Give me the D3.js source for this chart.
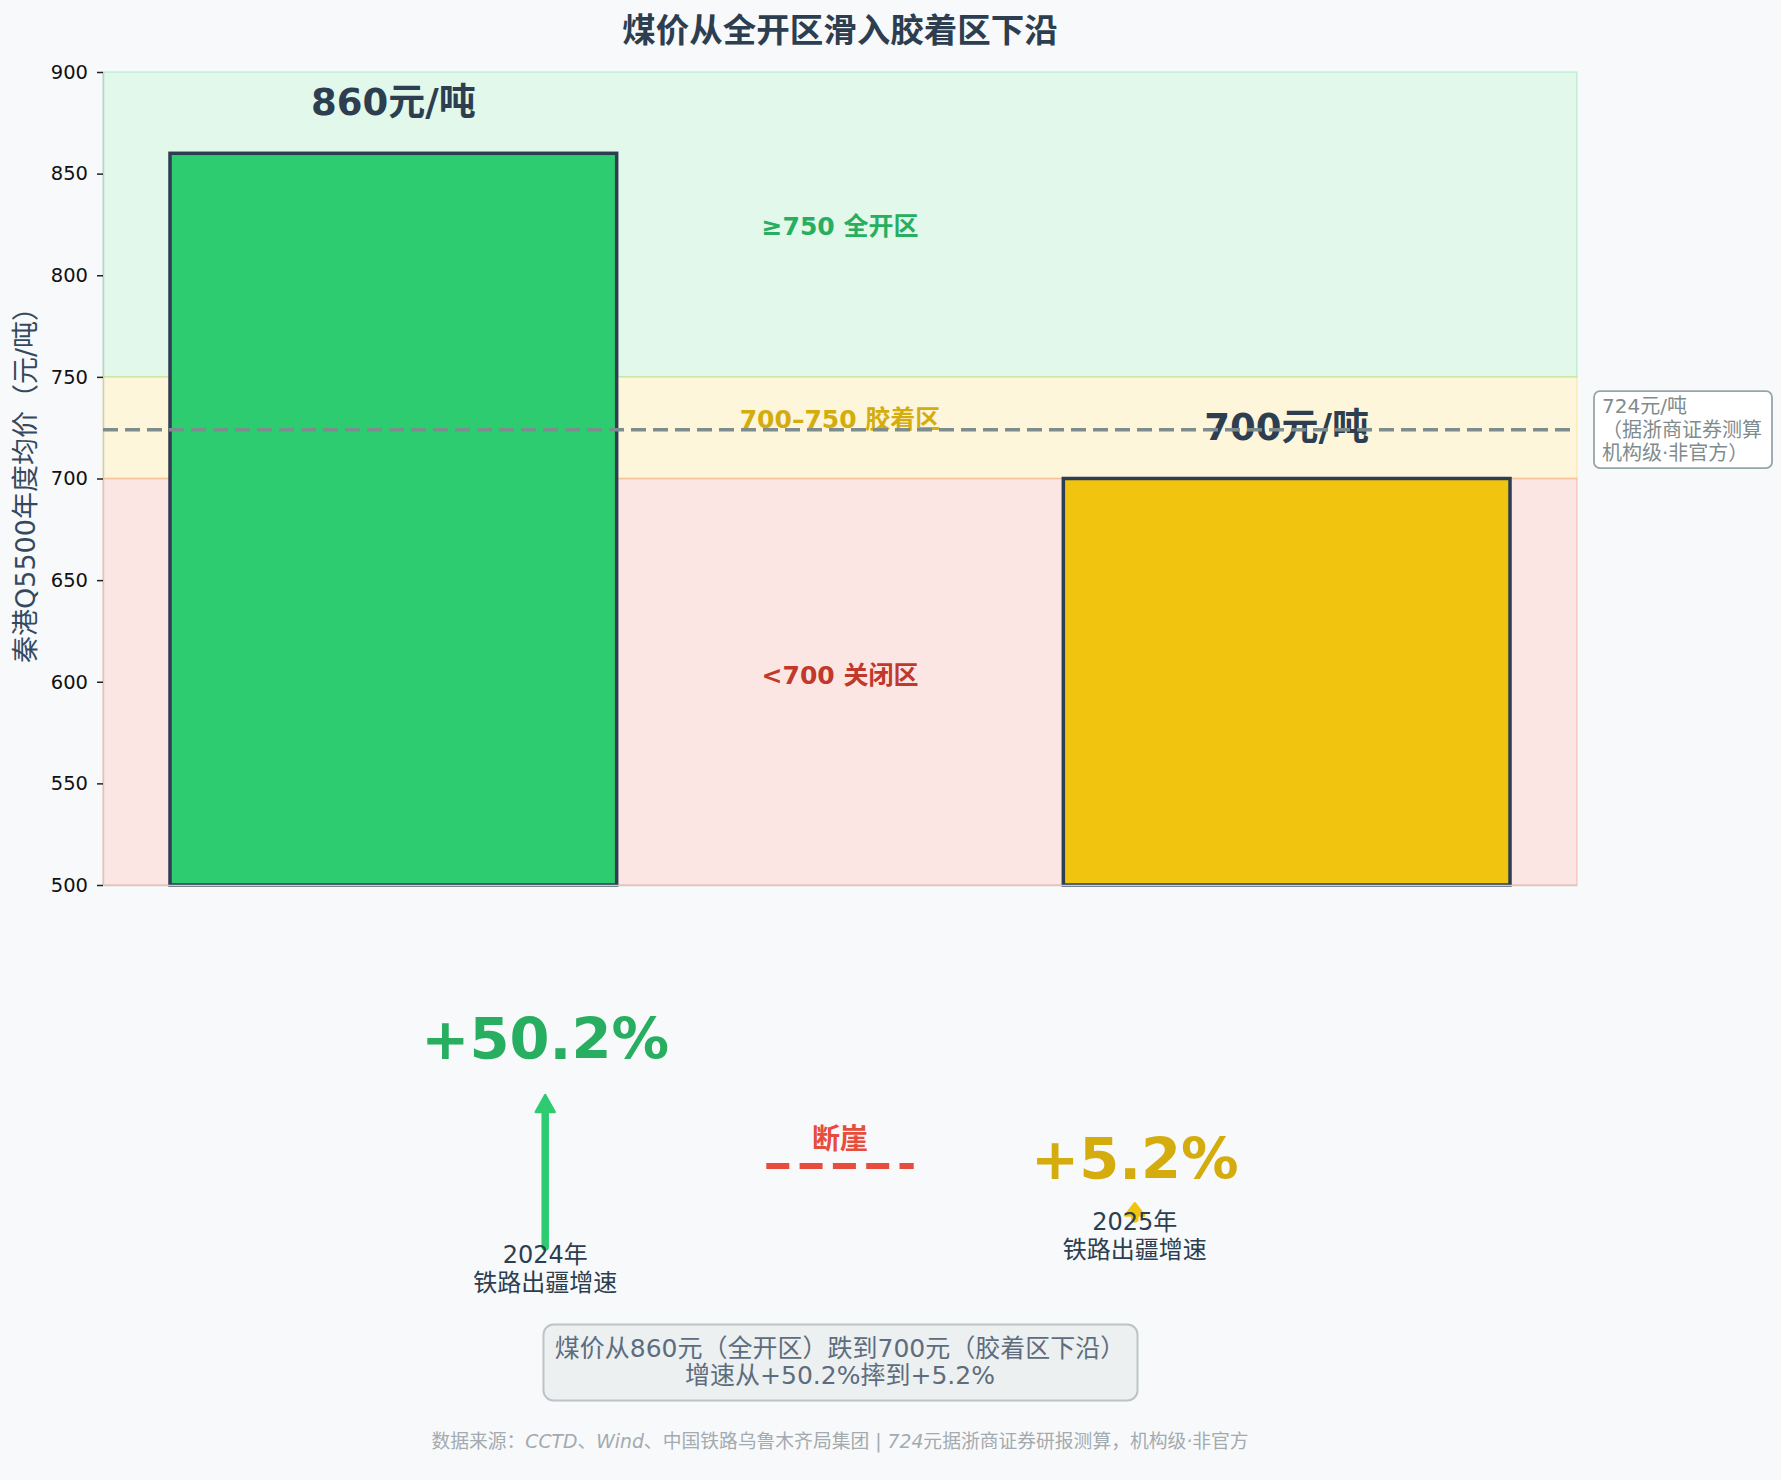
<!DOCTYPE html>
<html>
<head>
<meta charset="utf-8">
<script src="https://cdn.jsdelivr.net/npm/d3@7"></script>
<style>
  html, body { margin: 0; padding: 0; background: #f8f9fa; }
  svg { display: block; }
  text { font-family: "DejaVu Sans", "Noto Sans CJK SC", sans-serif; }
</style>
</head>
<body>
<svg id="chart" width="1781" height="1480"></svg>
<script>
// ---------- data ----------
const categories = ["2024年", "2025年"];
const prices = [860, 700];
const priceLabels = ["860元/吨", "700元/吨"];
const growth = [50.2, 5.2];
const growthLabels = ["+50.2%", "+5.2%"];
const yTicks = [500, 550, 600, 650, 700, 750, 800, 850, 900];
const zoneLow = [750, 700, 500];
const zoneHigh = [900, 750, 700];
const zoneNames = ["≥750 全开区", "700–750 胶着区", "<700 关闭区"];
const refPrice = 724;
const refNote = ["724元/吨", "（据浙商证券测算", "机构级·非官方）"];
const titleText = "煤价从全开区滑入胶着区下沿";
const yLabel = "秦港Q5500年度均价（元/吨）";
const summary = ["煤价从860元（全开区）跌到700元（胶着区下沿）", "增速从+50.2%摔到+5.2%"];
const subLabel = "铁路出疆增速";
const cliffLabel = "断崖";

// ---------- style ----------
const barColors = ["#2ecc71", "#f1c40f"];
const zoneColors = ["#2ecc71", "#f1c40f", "#e74c3c"];
const zoneTextColors = ["#27ae60", "#d4ac0d", "#c0392b"];
const growthColors = ["#27ae60", "#d4ac0d"];
const arrowColors = ["#2ecc71", "#f1c40f"];
const dark = "#2c3e50";

const svg = d3.select("#chart");
const W = 1781, H = 1480;
svg.append("rect").attr("width", W).attr("height", H).attr("fill", "#f8f9fa");

const M = { left: 103, right: 1577, top: 72, bottom: 885 };
const x = d3.scaleLinear().domain([-0.325, 1.325]).range([M.left, M.right]);
const y = d3.scaleLinear().domain([500, 900]).range([M.bottom, M.top]);
const barW = 0.5;

// title
svg.append("text").attr("x", 840).attr("y", 30)
  .attr("text-anchor", "middle").attr("dominant-baseline", "central")
  .attr("font-size", 33.5).attr("font-weight", "bold").attr("fill", dark)
  .text(titleText);

// plot face + zones
svg.append("rect").attr("x", M.left).attr("y", M.top)
  .attr("width", M.right - M.left).attr("height", M.bottom - M.top).attr("fill", "#ffffff");
const zg = svg.append("g");
zoneLow.forEach((lo, i) => {
  zg.append("rect")
    .attr("x", x(-0.325)).attr("width", x(1.325) - x(-0.325))
    .attr("y", y(zoneHigh[i])).attr("height", y(lo) - y(zoneHigh[i]))
    .attr("fill", zoneColors[i]).attr("fill-opacity", i === 1 ? 0.15 : (i === 0 ? 0.14 : 0.14))
    .attr("stroke", zoneColors[i]).attr("stroke-opacity", 0.22).attr("stroke-width", 1.5);
});

// bars
svg.append("g").selectAll("rect").data(prices).join("rect")
  .attr("x", (d, i) => x(i - barW / 2))
  .attr("width", (d, i) => x(i + barW / 2) - x(i - barW / 2))
  .attr("y", d => y(d))
  .attr("height", d => y(500) - y(d))
  .attr("fill", (d, i) => barColors[i])
  .attr("stroke", dark).attr("stroke-width", 3.5);

// axes
const yAxis = svg.append("g").attr("transform", `translate(${M.left},0)`)
  .call(d3.axisLeft(y).tickValues(yTicks).tickSize(6).tickPadding(9).tickSizeOuter(0));
yAxis.select(".domain").attr("stroke", "#cccccc").attr("stroke-width", 1.5);
yAxis.selectAll(".tick line").attr("stroke", "#222").attr("stroke-width", 1.5);
yAxis.selectAll(".tick text").attr("font-size", 19.5).attr("fill", "#111")
  .attr("font-family", "DejaVu Sans, sans-serif");

const xAxis = svg.append("g").attr("transform", `translate(0,${M.bottom})`)
  .call(d3.axisBottom(x).tickValues([]).tickSizeOuter(0));
xAxis.select(".domain").attr("stroke", "#cccccc").attr("stroke-width", 1.5);

// y label
svg.append("text")
  .attr("transform", `translate(25,${(M.top + M.bottom) / 2}) rotate(-90)`)
  .attr("text-anchor", "middle").attr("dominant-baseline", "central")
  .attr("font-size", 27).attr("fill", "#34495e")
  .text(yLabel);

// value labels
svg.append("g").selectAll("text").data(prices).join("text")
  .attr("x", (d, i) => x(i)).attr("y", d => y(d + 25))
  .attr("text-anchor", "middle").attr("dominant-baseline", "central")
  .attr("font-size", 37).attr("font-weight", "bold").attr("fill", dark)
  .text((d, i) => priceLabels[i]);

// zone labels
const zoneLabelAt = [824, 729, 603];
svg.append("g").selectAll("text").data(zoneNames).join("text")
  .attr("x", x(0.5)).attr("y", (d, i) => y(zoneLabelAt[i]))
  .attr("text-anchor", "middle").attr("dominant-baseline", "central")
  .attr("font-size", 25).attr("font-weight", "bold")
  .attr("fill", (d, i) => zoneTextColors[i])
  .text(d => d);

// reference dashed line
svg.append("line")
  .attr("x1", x(-0.325)).attr("x2", x(1.325))
  .attr("y1", y(refPrice)).attr("y2", y(refPrice))
  .attr("stroke", "#7f8c8d").attr("stroke-width", 3.5)
  .attr("stroke-dasharray", "15,7");

// reference note box
const noteG = svg.append("g");
const boxX = 1594, boxW = 178, boxH = 77;
noteG.append("rect")
  .attr("x", boxX).attr("y", y(refPrice) - boxH / 2)
  .attr("width", boxW).attr("height", boxH).attr("rx", 6)
  .attr("fill", "#ffffff").attr("stroke", "#95a5a6").attr("stroke-width", 1.8);
refNote.forEach((t, i) => {
  noteG.append("text")
    .attr("x", boxX + 8).attr("y", y(refPrice) + (i - 1) * 23.5)
    .attr("dominant-baseline", "central")
    .attr("font-size", 20).attr("fill", "#7f8c8d")
    .text(t);
});

// ---------- bottom growth panel ----------
const bx = d3.scaleLinear().domain([0, 1]).range([M.left, M.right]);
const growthX = [0.3, 0.7];
const gLen = d3.scaleLinear().domain([0, 50.2]).range([0, 152]);
const arrowBase = [1247, 1219];
const growthLabelY = [1039, 1159];
const catLabelY = [1255, 1222];

const bg = svg.append("g");
growth.forEach((g, i) => {
  const cx = bx(growthX[i]);
  const base = arrowBase[i];
  const tip = base - gLen(g);
  const hl = Math.min(17, gLen(g) * 0.78);
  const hw = 9.5;
  bg.append("line")
    .attr("x1", cx).attr("x2", cx).attr("y1", base).attr("y2", tip + hl)
    .attr("stroke", arrowColors[i]).attr("stroke-width", 7.5).attr("stroke-linecap", "round");
  bg.append("path")
    .attr("d", `M${cx},${tip} L${cx - hw},${tip + hl} L${cx + hw},${tip + hl} Z`)
    .attr("fill", arrowColors[i]).attr("stroke", arrowColors[i])
    .attr("stroke-width", 2.5).attr("stroke-linejoin", "round");

  bg.append("text").attr("x", cx).attr("y", growthLabelY[i])
    .attr("text-anchor", "middle").attr("dominant-baseline", "central")
    .attr("font-size", 57.5).attr("font-weight", "bold").attr("fill", growthColors[i])
    .text(growthLabels[i]);

  bg.append("text").attr("x", cx).attr("y", catLabelY[i])
    .attr("text-anchor", "middle").attr("dominant-baseline", "central")
    .attr("font-size", 24).attr("fill", dark)
    .text(categories[i]);
  bg.append("text").attr("x", cx).attr("y", catLabelY[i] + 28)
    .attr("text-anchor", "middle").attr("dominant-baseline", "central")
    .attr("font-size", 24).attr("fill", dark)
    .text(subLabel);
});

// cliff marker
bg.append("text").attr("x", bx(0.5)).attr("y", 1139)
  .attr("text-anchor", "middle").attr("dominant-baseline", "central")
  .attr("font-size", 28).attr("font-weight", "bold").attr("fill", "#e74c3c")
  .text(cliffLabel);
bg.append("line")
  .attr("x1", bx(0.45)).attr("x2", bx(0.55)).attr("y1", 1166).attr("y2", 1166)
  .attr("stroke", "#e74c3c").attr("stroke-width", 6.2)
  .attr("stroke-dasharray", "23,10.3");

// summary box
const sg = svg.append("g");
sg.append("rect").attr("x", 543.5).attr("y", 1324.5).attr("width", 594).attr("height", 76)
  .attr("rx", 10).attr("fill", "#ecf0f1").attr("stroke", "#bdc3c7").attr("stroke-width", 2);
summary.forEach((t, i) => {
  sg.append("text").attr("x", 840).attr("y", 1348 + i * 27.5)
    .attr("text-anchor", "middle").attr("dominant-baseline", "central")
    .attr("font-size", 25).attr("fill", "#5d6d7e")
    .text(t);
});

// footer with italic latin runs
const foot = svg.append("text").attr("x", 840).attr("y", 1441)
  .attr("text-anchor", "middle").attr("dominant-baseline", "central")
  .attr("font-size", 18.8).attr("fill", "#a3aab0");
const footParts = [
  ["数据来源：", false], ["CCTD", true], ["、", false], ["Wind", true],
  ["、中国铁路乌鲁木齐局集团", false], [" | 724", true],
  ["元据浙商证券研报测算，机构级", false], ["·", true], ["非官方", false]
];
footParts.forEach(([t, it]) => {
  foot.append("tspan").attr("font-style", it ? "italic" : "normal").text(t);
});
</script>
</body>
</html>
